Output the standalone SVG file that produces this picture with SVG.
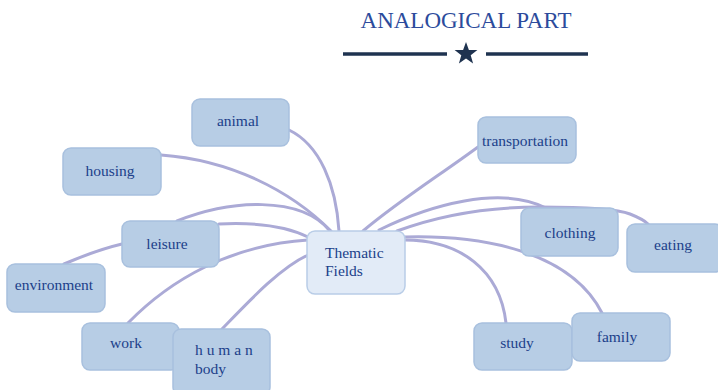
<svg xmlns="http://www.w3.org/2000/svg" width="718" height="390" viewBox="0 0 718 390">
<style>
.box{fill:#b7cde5;stroke:#a8c0de;stroke-width:1.5}
.center{fill:#e2ebf7;stroke:#b9cde7;stroke-width:1.5}
.t{font-family:"Liberation Serif","Times New Roman",serif;font-size:15.5px;fill:#203f8a}
.c{text-anchor:middle}
.edge{fill:none;stroke:#abaad6;stroke-width:3;stroke-linecap:round}
</style>
<rect width="718" height="390" fill="#ffffff"/>
<g id="title">
<text x="466" y="28" class="t c" style="font-size:23px;fill:#2c4b9c">ANALOGICAL PART</text>
<line x1="343" y1="54" x2="447" y2="54" stroke="#1f3350" stroke-width="3.5"/>
<line x1="486" y1="54" x2="588" y2="54" stroke="#1f3350" stroke-width="3.5"/>
<polygon points="466,42 468.9,49.9 477.4,50.1 470.7,55.3 473.1,63.4 466,58.6 458.9,63.4 461.3,55.3 454.6,50.1 463.1,49.9" fill="#1f3350"/>
</g>
<g id="connectors">
<path class="edge" d="M289,130 C320,145 336,185 339,231"/>
<path class="edge" d="M161,155 C230,160 290,190 331,231"/>
<path class="edge" d="M177,221 C230,200 300,195 330,231"/>
<path class="edge" d="M219,224 C260,222 290,228 308,237"/>
<path class="edge" d="M64,264 C85,255 105,248 122,244"/>
<path class="edge" d="M128,323 C170,280 230,245 308,240"/>
<path class="edge" d="M222,329 C250,300 280,268 308,255"/>
<path class="edge" d="M363,231 C400,200 440,175 478,147"/>
<path class="edge" d="M379,230 C430,205 500,185 546,208"/>
<path class="edge" d="M397,231 C440,215 490,207 540,207 C580,207 615,208 630,214 C640,218 645,221 648,224"/>
<path class="edge" d="M405,240 C460,240 500,270 506,323"/>
<path class="edge" d="M405,237 C480,235 570,250 602,313"/>
</g>
<g id="node-animal"><rect class="box" x="192" y="99" width="97" height="47" rx="8"/><text class="t c" x="238" y="126">animal</text></g>
<g id="node-housing"><rect class="box" x="63" y="148" width="98" height="47" rx="8"/><text class="t c" x="110" y="176">housing</text></g>
<g id="node-leisure"><rect class="box" x="122" y="221" width="97" height="46" rx="8"/><text class="t c" x="167" y="249">leisure</text></g>
<g id="node-environment"><rect class="box" x="7" y="264" width="98" height="48" rx="8"/><text class="t c" x="54" y="290">environment</text></g>
<g id="node-work"><rect class="box" x="82" y="323" width="97" height="47" rx="8"/><text class="t c" x="126" y="348">work</text></g>
<g id="node-human-body"><rect class="box" x="173" y="329" width="97" height="66" rx="8"/><text class="t" x="195" y="355">h u m a n</text><text class="t" x="195" y="374">body</text></g>
<g id="node-thematic-fields"><rect class="center" x="307" y="231" width="98" height="63" rx="8"/><text class="t" x="325" y="258">Thematic</text><text class="t" x="325" y="276">Fields</text></g>
<g id="node-transportation"><rect class="box" x="478" y="117" width="98" height="46" rx="8"/><text class="t c" x="525" y="146">transportation</text></g>
<g id="node-clothing"><rect class="box" x="521" y="208" width="97" height="48" rx="8"/><text class="t c" x="570" y="238">clothing</text></g>
<g id="node-eating"><rect class="box" x="627" y="224" width="96" height="48" rx="8"/><text class="t c" x="673" y="250">eating</text></g>
<g id="node-study"><rect class="box" x="474" y="323" width="98" height="47" rx="8"/><text class="t c" x="517" y="348">study</text></g>
<g id="node-family"><rect class="box" x="572" y="313" width="98" height="48" rx="8"/><text class="t c" x="617" y="342">family</text></g>
</svg>
